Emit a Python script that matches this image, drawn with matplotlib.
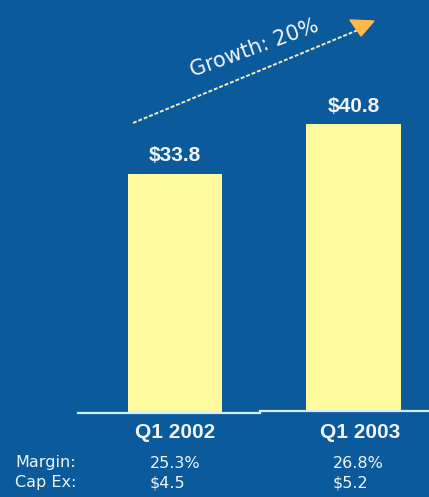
import matplotlib
matplotlib.use("Agg")
import matplotlib.pyplot as plt
from matplotlib.patches import Polygon

# Revenue by quarter ($M)
quarters = ["Q1 2002", "Q1 2003"]
revenue = [33.8, 40.8]
value_labels = ["$33.8", "$40.8"]
margin = ["25.3%", "26.8%"]
capex = ["$4.5", "$5.2"]
row_labels = ["Margin:", "Cap Ex:"]
growth_label = "Growth: 20%"

W, H = 429, 497
BG = "#0b5a9b"
BAR = "#fffa9e"
TXT = "#f2f4f8"

plt.rcParams["font.family"] = ["Liberation Sans", "DejaVu Sans"]
LIGHT = ["DejaVu Sans"]

fig = plt.figure(figsize=(W / 100, H / 100), dpi=100, facecolor=BG)


def fx(x):
    return x / W


def fy(y):
    return 1 - y / H


# Axes spanning the full width, bottom at the baseline
base_y = 412
ax = fig.add_axes([0, fy(base_y), 1, base_y / H])
ax.set_facecolor(BG)
ax.set_xlim(-0.980, 1.423)
ax.set_ylim(0, 58.4)
ax.axis("off")

xs = range(len(quarters))
ax.bar(xs, revenue, width=0.527, color=BAR, edgecolor="none")
for x, v, lab in zip(xs, revenue, value_labels):
    ax.annotate(lab, (x, v), xytext=(0, 6), textcoords="offset points",
                ha="center", va="bottom", color=TXT, fontsize=15,
                fontweight="bold")

# Baseline (two slightly offset segments)
fig.add_artist(plt.Line2D([fx(78), fx(260)], [fy(413), fy(413)],
                          color="#d6eeff", lw=1.6))
fig.add_artist(plt.Line2D([fx(260), fx(429)], [fy(411), fy(411)],
                          color="#d6eeff", lw=1.6))

# Growth arrow
fig.add_artist(plt.Line2D([fx(133), fx(358)], [fy(123), fy(30)],
                          color="#f4ecc0", lw=1.4, ls=(0, (2, 1))))
head = Polygon([[fx(350), fy(20)], [fx(374), fy(21)], [fx(361), fy(36)]],
               closed=True, transform=fig.transFigure, color="#ffb94a",
               zorder=5)
fig.add_artist(head)
fig.text(fx(254), fy(48), growth_label, rotation=20, rotation_mode="anchor",
         ha="center", va="center", color=TXT, fontsize=15, family=LIGHT)

# Category labels
cat_x = [175, 360]
for cx, q in zip(cat_x, quarters):
    fig.text(fx(cx), fy(433), q, ha="center", va="center", color=TXT,
             fontsize=15, fontweight="bold")

# Table rows beneath
row_y = [463, 483]
for ry, lab in zip(row_y, row_labels):
    fig.text(fx(15), fy(ry), lab, ha="left", va="center", color=TXT,
             fontsize=11.5, family=LIGHT)
val_x = [150, 333]
for vx, m, c in zip(val_x, margin, capex):
    fig.text(fx(vx), fy(row_y[0]), m, ha="left", va="center", color=TXT,
             fontsize=11.5, family=LIGHT)
    fig.text(fx(vx), fy(row_y[1]), c, ha="left", va="center", color=TXT,
             fontsize=11.5, family=LIGHT)

fig.savefig("out.png", dpi=100, facecolor=BG)
